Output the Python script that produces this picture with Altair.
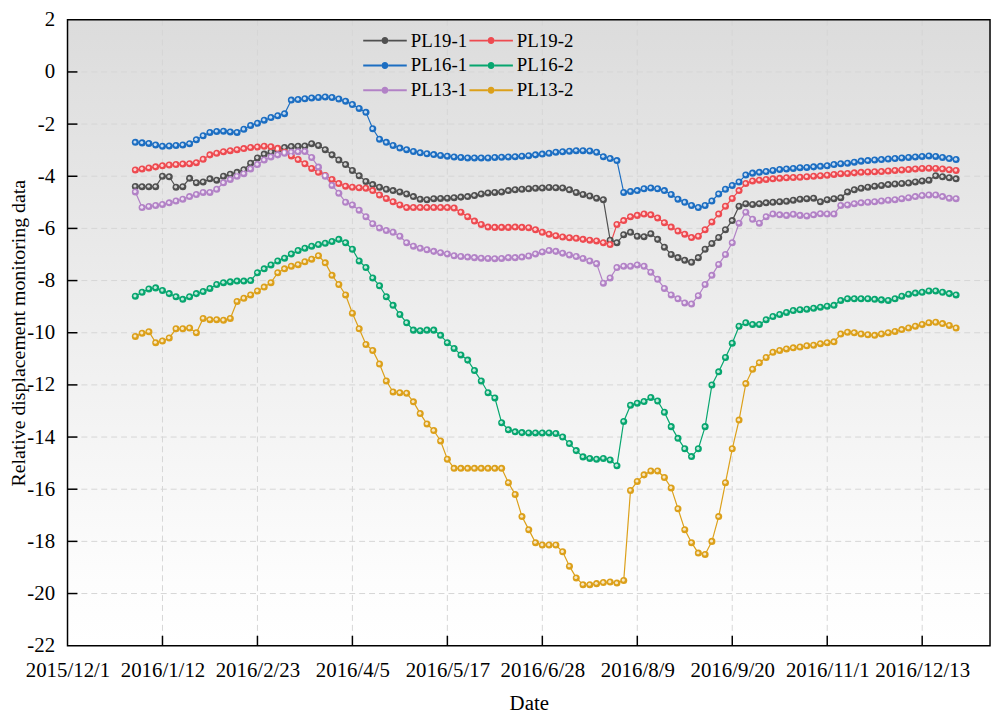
import altair as alt
import pandas as pd

# ---------------- data ----------------
series_names = ["PL19-1", "PL19-2", "PL16-1", "PL16-2", "PL13-1", "PL13-2"]
series_colors = ["#505050", "#ee4a50", "#1c6ec2", "#07a66f", "#b282c6", "#dca01a"]

x_tick_days = [0, 42, 84, 126, 168, 210, 252, 294, 336, 378]
x_tick_labels = ["2015/12/1", "2016/1/12", "2016/2/23", "2016/4/5", "2016/5/17",
                 "2016/6/28", "2016/8/9", "2016/9/20", "2016/11/1", "2016/12/13"]
y_ticks = [-22, -20, -18, -16, -14, -12, -10, -8, -6, -4, -2, 0, 2]

axis_origin = "2015-12-01"
first_sample = "2015-12-31"
n_points = 122          # one reading every 3 days
sample_dates = pd.date_range(first_sample, periods=n_points, freq="3D")
sample_days = [int(d) for d in (sample_dates - pd.Timestamp(axis_origin)).days]

pl19_1 = [-4.39, -4.40, -4.40, -4.40, -4.00, -4.02, -4.42, -4.40, -4.08, -4.25,
          -4.22, -4.10, -4.15, -4.00, -3.92, -3.85, -3.75, -3.50, -3.30, -3.15,
          -3.07, -2.98, -2.90, -2.86, -2.85, -2.84, -2.75, -2.82, -2.98, -3.18,
          -3.38, -3.55, -3.78, -3.98, -4.20, -4.32, -4.42, -4.50, -4.55, -4.60,
          -4.68, -4.78, -4.88, -4.90, -4.86, -4.85, -4.84, -4.82, -4.80, -4.78,
          -4.74, -4.68, -4.64, -4.62, -4.60, -4.55, -4.52, -4.50, -4.48, -4.46,
          -4.45, -4.43, -4.44, -4.45, -4.52, -4.62, -4.70, -4.76, -4.84, -4.90,
          -6.45, -6.55, -6.24, -6.15, -6.30, -6.32, -6.20, -6.42, -6.72, -7.00,
          -7.12, -7.22, -7.30, -7.12, -6.80, -6.58, -6.35, -6.05, -5.70, -5.15,
          -5.05, -5.08, -5.05, -5.02, -5.00, -4.98, -4.96, -4.92, -4.88, -4.86,
          -4.84, -4.98, -4.90, -4.86, -4.82, -4.60, -4.52, -4.46, -4.42, -4.38,
          -4.35, -4.32, -4.30, -4.28, -4.26, -4.22, -4.18, -4.15, -3.98, -4.02,
          -4.06, -4.10]

pl19_2 = [-3.76, -3.72, -3.68, -3.64, -3.60, -3.57, -3.55, -3.53, -3.52, -3.48,
          -3.35, -3.18, -3.12, -3.06, -3.02, -2.98, -2.94, -2.90, -2.88, -2.85,
          -2.87, -2.93, -3.08, -3.22, -3.36, -3.52, -3.70, -3.85, -3.97, -4.12,
          -4.28, -4.38, -4.42, -4.44, -4.46, -4.55, -4.72, -4.85, -4.98, -5.10,
          -5.20, -5.20, -5.20, -5.20, -5.20, -5.20, -5.20, -5.22, -5.38, -5.55,
          -5.72, -5.85, -5.95, -5.96, -5.96, -5.96, -5.95, -5.96, -5.97, -6.05,
          -6.15, -6.22, -6.28, -6.33, -6.36, -6.38, -6.42, -6.45, -6.48, -6.55,
          -6.62, -5.85, -5.70, -5.55, -5.50, -5.45, -5.48, -5.60, -5.78, -5.95,
          -6.10, -6.22, -6.35, -6.30, -6.05, -5.75, -5.45, -5.15, -4.85, -4.55,
          -4.28, -4.18, -4.15, -4.12, -4.10, -4.08, -4.06, -4.05, -4.04, -4.02,
          -4.00, -3.98, -3.96, -3.93, -3.90, -3.89, -3.87, -3.85, -3.84, -3.83,
          -3.82, -3.80, -3.78, -3.76, -3.74, -3.72, -3.70, -3.69, -3.70, -3.72,
          -3.75, -3.78]

pl16_1 = [-2.70, -2.72, -2.74, -2.80, -2.85, -2.84, -2.82, -2.80, -2.75, -2.60,
          -2.45, -2.32, -2.28, -2.27, -2.30, -2.32, -2.20, -2.05, -1.97, -1.85,
          -1.75, -1.68, -1.60, -1.08, -1.06, -1.03, -1.00, -0.98, -0.96, -0.98,
          -1.04, -1.12, -1.25, -1.40, -1.55, -2.18, -2.58, -2.70, -2.82, -2.92,
          -2.98, -3.05, -3.10, -3.14, -3.17, -3.20, -3.23, -3.26, -3.28, -3.30,
          -3.30, -3.30, -3.30, -3.28, -3.27, -3.26, -3.25, -3.23, -3.21, -3.18,
          -3.15, -3.12, -3.08, -3.06, -3.04, -3.02, -3.02, -3.03, -3.08, -3.25,
          -3.32, -3.40, -4.62, -4.58, -4.55, -4.48, -4.45, -4.48, -4.55, -4.70,
          -4.88, -5.00, -5.12, -5.20, -5.12, -4.95, -4.68, -4.50, -4.35, -4.22,
          -3.95, -3.88, -3.85, -3.82, -3.78, -3.74, -3.72, -3.70, -3.67, -3.66,
          -3.64, -3.62, -3.60, -3.55, -3.52, -3.50, -3.46, -3.42, -3.40, -3.38,
          -3.36, -3.34, -3.32, -3.30, -3.28, -3.26, -3.24, -3.22, -3.24, -3.28,
          -3.32, -3.36]

pl16_2 = [-8.60, -8.45, -8.32, -8.28, -8.38, -8.50, -8.62, -8.72, -8.62, -8.50,
          -8.42, -8.30, -8.15, -8.08, -8.05, -8.02, -8.02, -8.00, -7.70, -7.55,
          -7.40, -7.25, -7.14, -6.98, -6.85, -6.76, -6.68, -6.62, -6.57, -6.50,
          -6.42, -6.55, -6.80, -7.25, -7.50, -7.90, -8.20, -8.62, -8.95, -9.30,
          -9.62, -9.90, -9.92, -9.90, -9.90, -10.10, -10.38, -10.60, -10.85, -11.05,
          -11.45, -11.85, -12.30, -12.50, -13.45, -13.72, -13.80, -13.83, -13.84, -13.84,
          -13.84, -13.84, -13.86, -14.00, -14.25, -14.52, -14.76, -14.82, -14.85, -14.82,
          -14.88, -15.10, -13.40, -12.78, -12.70, -12.64, -12.48, -12.62, -13.05, -13.60,
          -14.05, -14.45, -14.75, -14.45, -13.60, -12.00, -11.50, -10.95, -10.40, -9.75,
          -9.62, -9.68, -9.68, -9.50, -9.38, -9.30, -9.22, -9.15, -9.12, -9.10,
          -9.06, -9.02, -8.98, -8.95, -8.76, -8.70, -8.70, -8.70, -8.70, -8.72,
          -8.74, -8.76, -8.70, -8.60, -8.52, -8.48, -8.45, -8.40, -8.40, -8.45,
          -8.50, -8.55]

pl13_1 = [-4.60, -5.20, -5.16, -5.12, -5.08, -5.02, -4.95, -4.88, -4.78, -4.70,
          -4.62, -4.62, -4.50, -4.25, -4.12, -4.00, -3.90, -3.72, -3.55, -3.38,
          -3.26, -3.18, -3.12, -3.08, -3.06, -3.05, -3.28, -3.65, -4.00, -4.35,
          -4.65, -5.00, -5.10, -5.30, -5.55, -5.82, -5.98, -6.08, -6.15, -6.30,
          -6.55, -6.68, -6.76, -6.82, -6.88, -6.93, -6.98, -7.05, -7.08, -7.10,
          -7.12, -7.14, -7.15, -7.16, -7.15, -7.12, -7.12, -7.10, -7.06, -6.98,
          -6.90, -6.85, -6.88, -6.95, -7.02, -7.08, -7.15, -7.25, -7.35, -8.10,
          -7.90, -7.50, -7.45, -7.45, -7.40, -7.45, -7.68, -7.95, -8.30, -8.55,
          -8.70, -8.86, -8.90, -8.58, -8.15, -7.80, -7.38, -7.00, -6.55, -5.80,
          -5.38, -5.65, -5.80, -5.55, -5.45, -5.48, -5.50, -5.46, -5.50, -5.52,
          -5.48, -5.44, -5.45, -5.45, -5.12, -5.10, -5.05, -5.02, -5.00, -4.98,
          -4.95, -4.92, -4.90, -4.86, -4.82, -4.78, -4.74, -4.72, -4.72, -4.78,
          -4.84, -4.86]

pl13_2 = [-10.14, -10.02, -9.96, -10.38, -10.32, -10.20, -9.85, -9.85, -9.82, -10.00,
          -9.45, -9.50, -9.50, -9.52, -9.45, -8.80, -8.68, -8.55, -8.40, -8.25,
          -8.08, -7.70, -7.55, -7.45, -7.39, -7.28, -7.18, -7.05, -7.32, -7.80,
          -8.15, -8.55, -9.25, -9.85, -10.45, -10.68, -11.20, -11.85, -12.27, -12.30,
          -12.32, -12.65, -13.10, -13.50, -13.75, -14.15, -14.85, -15.20, -15.20, -15.20,
          -15.20, -15.20, -15.20, -15.20, -15.20, -15.75, -16.20, -17.05, -17.55, -18.05,
          -18.14, -18.14, -18.14, -18.40, -18.95, -19.40, -19.66, -19.66, -19.62, -19.58,
          -19.56, -19.60, -19.50, -16.05, -15.70, -15.45, -15.30, -15.30, -15.55, -15.95,
          -16.75, -17.55, -18.05, -18.45, -18.50, -18.00, -17.05, -15.75, -14.45, -13.35,
          -11.95, -11.40, -11.15, -10.95, -10.75, -10.68, -10.62, -10.58, -10.55, -10.50,
          -10.48, -10.42, -10.38, -10.35, -10.05, -9.98, -10.00, -10.05, -10.08, -10.10,
          -10.05, -10.00, -9.95, -9.88, -9.82, -9.75, -9.68, -9.62, -9.60, -9.65,
          -9.72, -9.82]

series_values = [pl19_1, pl19_2, pl16_1, pl16_2, pl13_1, pl13_2]

# ---------------- tables ----------------
rows = []
for name, vals in zip(series_names, series_values):
    assert len(vals) == n_points, (name, len(vals))
    for d, v in zip(sample_days, vals):
        rows.append({"day": d, "value": v, "series": name})
df = pd.DataFrame(rows)

W, H = 930, 631
FONT = "Liberation Serif"

label_list = "[" + ",".join("'%s'" % s for s in x_tick_labels) + "]"
x_axis = alt.Axis(values=x_tick_days, labelExpr=label_list + "[round(datum.value/42)]",
                  title="Date", labelFontSize=21, titleFontSize=21, labelPadding=14,
                  titlePadding=12, ticks=False, tickSize=0, domain=False, grid=False,
                  labelFlush=False, labelOverlap=False, labelColor="black",
                  titleColor="black", titleFontWeight="normal", labelFont=FONT, titleFont=FONT)
y_axis = alt.Axis(values=y_ticks, labelExpr="'' + datum.value",
                  title="Relative displacement monitoring data", labelFontSize=21,
                  titleFontSize=20, labelPadding=13, titleX=-49, titleBaseline="middle",
                  ticks=False, tickSize=0,
                  domain=False, grid=False, labelFlush=False, labelOverlap=False,
                  labelColor="black", titleColor="black", titleFontWeight="normal",
                  labelFont=FONT, titleFont=FONT)

x_enc = alt.X("day:Q", scale=alt.Scale(domain=[0, 408], nice=False, zero=False), axis=x_axis)
y_enc = alt.Y("value:Q", scale=alt.Scale(domain=[-22, 2], nice=False, zero=False), axis=y_axis)
color_scale = alt.Scale(domain=series_names, range=series_colors)

legend_symbol = ("M-1,-0.045L-0.16,-0.045L-0.16,0.045L-1,0.045Z"
                 "M0.16,-0.045L1,-0.045L1,0.045L0.16,0.045Z"
                 "M0.16,0A0.16,0.16 0 1,1 -0.16,0A0.16,0.16 0 1,1 0.16,0Z")

legend = alt.Legend(title=None, orient="none", legendX=298, legendY=11, columns=2,
                    direction="horizontal",
                    symbolType=legend_symbol, symbolSize=1936, symbolStrokeWidth=0,
                    labelFont=FONT, labelFontSize=19, labelColor="black",
                    columnPadding=2, rowPadding=5, labelOffset=4, padding=0,
                    clipHeight=20, symbolOpacity=1)

# ---------------- layers ----------------
bg = alt.Chart(pd.DataFrame({"bg": [0]})).mark_rect(
    fill=alt.LinearGradient(gradient="linear", x1=0, x2=0, y1=0, y2=1,
                            stops=[alt.GradientStop(offset=0, color="#dcdcdc"),
                                   alt.GradientStop(offset=0.9, color="#fdfdfd"),
                                   alt.GradientStop(offset=1, color="#ffffff")])
).encode(x=alt.value(0), x2=alt.value(W), y=alt.value(0), y2=alt.value(H))

vgrid = alt.Chart(pd.DataFrame({"day": x_tick_days[1:]})).mark_rule(
    color="#d6d6d6", strokeDash=[6, 4], strokeWidth=1).encode(x=x_enc)
hgrid = alt.Chart(pd.DataFrame({"value": y_ticks[1:-1]})).mark_rule(
    color="#d6d6d6", strokeDash=[6, 4], strokeWidth=1).encode(y=y_enc)

xticks = alt.Chart(pd.DataFrame({"day": x_tick_days[1:]})).mark_rule(
    color="black", strokeWidth=1.5).encode(x=x_enc, y=alt.value(H - 10), y2=alt.value(H))
yticks = alt.Chart(pd.DataFrame({"value": y_ticks[1:-1]})).mark_rule(
    color="black", strokeWidth=1.5).encode(y=y_enc, x=alt.value(0), x2=alt.value(10))

base = alt.Chart(df)
line_layers = [
    base.transform_filter(alt.datum.series == name).mark_line(strokeWidth=1.2, color=col)
        .encode(x=x_enc, y=y_enc)
    for name, col in zip(series_names, series_colors)
]
points = base.mark_point(filled=True, size=50, opacity=1).encode(
    x=x_enc, y=y_enc, color=alt.Color("series:N", scale=color_scale, legend=legend))
highlights = base.mark_point(filled=True, size=10, color="white", opacity=0.75,
                             xOffset=-0.4, yOffset=-0.4).encode(x=x_enc, y=y_enc)

frame = alt.Chart(pd.DataFrame({"f": [0]})).mark_rect(
    filled=False, stroke="black", strokeWidth=1.5
).encode(x=alt.value(0), x2=alt.value(W), y=alt.value(0), y2=alt.value(H))

chart = alt.layer(bg, vgrid, hgrid, xticks, yticks, *line_layers, points, highlights, frame).properties(
    width=W, height=H,
    autosize=alt.AutoSizeParams(type="none"),
    padding={"left": 60, "top": 9, "right": 3, "bottom": 68},
).configure(font=FONT).configure_view(strokeWidth=0)

chart.save("out.html", embed_options={"renderer": "svg", "actions": False})
